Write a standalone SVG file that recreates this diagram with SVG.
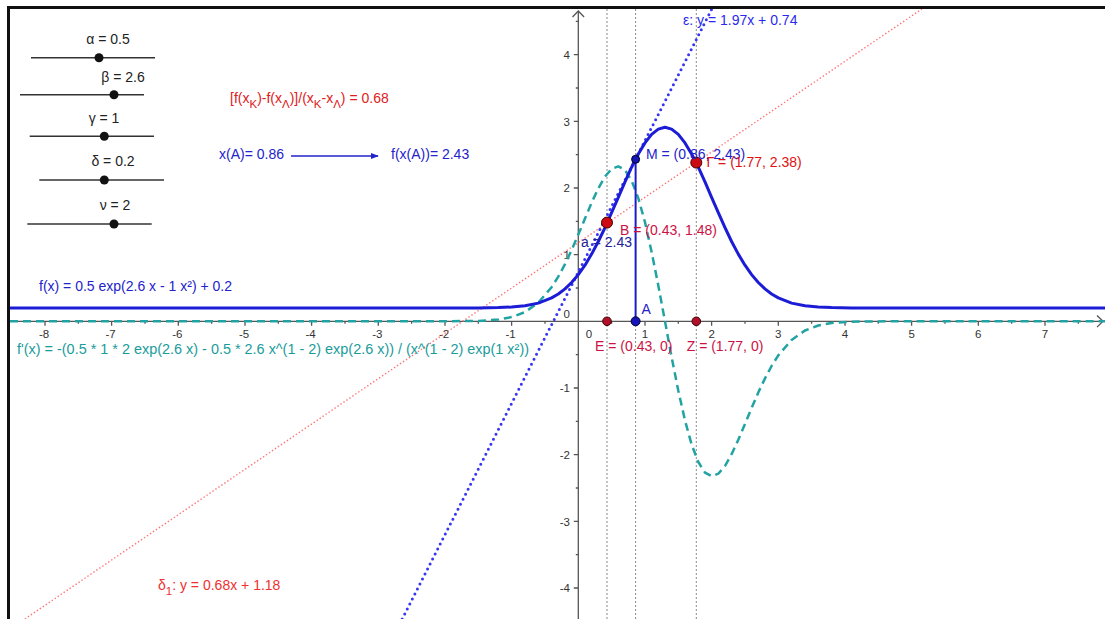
<svg xmlns="http://www.w3.org/2000/svg" width="1105" height="619" viewBox="0 0 1105 619">
<style>
text{font-family:"Liberation Sans",Arial,sans-serif;font-size:14px}
.tick{font-size:11.5px;fill:#333}
.axis{stroke:#555;stroke-width:1.3;fill:none}
.guide{stroke:#8a8a8a;stroke-width:1;stroke-dasharray:2 2;fill:none}
.slider{stroke:#333;stroke-width:1.5}
.knob{fill:#111}
.blue{fill:#2323cc}
.red{fill:#e02020}
.crim{fill:#cc1144}
.sub{font-size:11.5px}
</style>
<defs>
<clipPath id="plot"><rect x="10" y="9" width="1095" height="610"/></clipPath>
<marker id="ah" viewBox="0 0 10 10" refX="9" refY="5" markerWidth="8" markerHeight="8" orient="auto" markerUnits="userSpaceOnUse"><path d="M0 1 L10 5 L0 9 Z" fill="#2323cc"/></marker>
</defs>
<rect width="1105" height="619" fill="#fff"/>
<g id="frame" stroke="#111" stroke-width="3" fill="none">
<line x1="8.5" y1="7.5" x2="1105" y2="7.5"/>
<line x1="8.5" y1="6" x2="8.5" y2="619"/>
</g>
<g clip-path="url(#plot)">
<g id="guides">
<line class="guide" x1="607" y1="9" x2="607" y2="619"/>
<line class="guide" x1="635.6" y1="9" x2="635.6" y2="619"/>
<line class="guide" x1="696.3" y1="9" x2="696.3" y2="619"/>
</g>
<g id="axes">
<line class="axis" x1="10" y1="321.3" x2="1103" y2="321.3"/>
<path class="axis" d="M1097 315.5 L1103 321.3 L1097 327.1"/>
<line class="axis" x1="578.3" y1="619" x2="578.3" y2="11"/>
<path class="axis" d="M572.5 17 L578.3 11 L584.1 17"/>
<path class="axis" d="M45 321.3v4.5M111.6 321.3v4.5M178.3 321.3v4.5M245 321.3v4.5M311.6 321.3v4.5M378.3 321.3v4.5M445 321.3v4.5M511.6 321.3v4.5M645 321.3v4.5M711.6 321.3v4.5M778.3 321.3v4.5M845 321.3v4.5M911.6 321.3v4.5M978.3 321.3v4.5M1045 321.3v4.5"/>
<path class="axis" d="M78.3 321.3v2.5M145 321.3v2.5M211.6 321.3v2.5M278.3 321.3v2.5M345 321.3v2.5M411.6 321.3v2.5M478.3 321.3v2.5M545 321.3v2.5M611.6 321.3v2.5M678.3 321.3v2.5M745 321.3v2.5M811.6 321.3v2.5M878.3 321.3v2.5M945 321.3v2.5M1011.6 321.3v2.5M1078.3 321.3v2.5"/>
<path class="axis" d="M578.3 54.6h-4.5M578.3 121.3h-4.5M578.3 188h-4.5M578.3 254.6h-4.5M578.3 388h-4.5M578.3 454.6h-4.5M578.3 521.3h-4.5M578.3 588h-4.5"/>
<path class="axis" d="M578.3 21.3h-2.5M578.3 88h-2.5M578.3 154.6h-2.5M578.3 221.3h-2.5M578.3 288h-2.5M578.3 354.6h-2.5M578.3 421.3h-2.5M578.3 488h-2.5M578.3 554.6h-2.5"/>
</g>
<g id="tick-labels" text-anchor="middle">
<text class="tick" x="44" y="337.5">-8</text>
<text class="tick" x="110.6" y="337.5">-7</text>
<text class="tick" x="177.3" y="337.5">-6</text>
<text class="tick" x="244" y="337.5">-5</text>
<text class="tick" x="310.6" y="337.5">-4</text>
<text class="tick" x="377.3" y="337.5">-3</text>
<text class="tick" x="444" y="337.5">-2</text>
<text class="tick" x="510.6" y="337.5">-1</text>
<text class="tick" x="589" y="337.5">0</text>
<text class="tick" x="645" y="337.5">1</text>
<text class="tick" x="711.6" y="337.5">2</text>
<text class="tick" x="778.3" y="337.5">3</text>
<text class="tick" x="845" y="337.5">4</text>
<text class="tick" x="911.6" y="337.5">5</text>
<text class="tick" x="978.3" y="337.5">6</text>
<text class="tick" x="1045" y="337.5">7</text>
</g>
<g id="y-tick-labels" text-anchor="end">
<text class="tick" x="570" y="58.8">4</text>
<text class="tick" x="570" y="125.5">3</text>
<text class="tick" x="570" y="192.2">2</text>
<text class="tick" x="570" y="258.8">1</text>
<text class="tick" x="570" y="318">0</text>
<text class="tick" x="570" y="392.2">-1</text>
<text class="tick" x="570" y="458.8">-2</text>
<text class="tick" x="570" y="525.5">-3</text>
<text class="tick" x="570" y="592.2">-4</text>
</g>
<g id="line-delta1">
<line x1="24.9" y1="619" x2="921.9" y2="9" stroke="#ff5a5a" stroke-width="1.4" stroke-dasharray="1.4 2.2" opacity="0.85"/>
</g>
<g id="line-epsilon">
<line x1="402.2" y1="619" x2="711.8" y2="9" stroke="#3535f5" stroke-width="3" stroke-linecap="round" stroke-dasharray="0 5.6"/>
</g>
<g id="f-prime">
<path d="M10 321.3 L445 321.3 L478.3 320.9 L498.3 319.6 L511.6 317.1 L525 312.1 L538.3 302.7 L551.6 287.2 L558.3 276.6 L565 264.2 L571.6 250.1 L578.3 234.6 L585 218.6 L591.6 202.8 L598.3 188.4 L605 176.6 L611.6 168.9 L618.3 166.4 L625 170 L631.6 180.6 L638.3 198.2 L645 222.2 L651.6 251.9 L658.3 285.5 L665 321.3 L671.6 357.1 L678.3 390.7 L685 420.4 L691.6 444.4 L698.3 462 L705 472.6 L711.6 476.2 L718.3 473.7 L725 466 L731.6 454.2 L738.3 439.8 L745 424 L751.6 408 L758.3 392.5 L765 378.4 L771.6 366 L778.3 355.4 L791.6 339.9 L805 330.5 L818.3 325.5 L831.6 323 L851.6 321.7 L885 321.3 L1105 321.3" fill="none" stroke="#22a3a3" stroke-width="2.5" stroke-dasharray="8 5" stroke-linejoin="round"/>
</g>
<g id="f">
<path d="M10 308 L478.3 307.9 L498.3 307.6 L511.6 307.05 L525 305.8 L538.3 303.1 L551.6 297.9 L558.3 294 L565 288.9 L571.6 282.5 L578.3 274.6 L585 265.2 L591.6 254.1 L598.3 241.5 L605 227.6 L611.6 212.7 L618.3 197.3 L625 181.9 L631.6 167.2 L638.3 154 L645 142.9 L651.6 134.4 L658.3 129.1 L665 127.3 L671.6 129.1 L678.3 134.4 L685 142.9 L691.6 154 L698.3 167.2 L705 181.9 L711.6 197.3 L718.3 212.7 L725 227.6 L731.6 241.5 L738.3 254.1 L745 265.2 L751.6 274.6 L758.3 282.5 L765 288.9 L771.6 294 L778.3 297.9 L791.6 303.1 L805 305.8 L818.3 307.05 L831.6 307.6 L851.6 307.9 L1105 308" fill="none" stroke="#1c1cd6" stroke-width="3" stroke-linejoin="round"/>
</g>
<g id="segment-AM">
<line x1="635.6" y1="321.3" x2="635.6" y2="159.3" stroke="#1c1cc8" stroke-width="2"/>
</g>
<g id="points">
<g id="pt-E"><circle cx="607" cy="321.3" r="4.3" fill="#b0102a" stroke="#3a0000" stroke-width="1"/></g>
<g id="pt-Z"><circle cx="696.3" cy="321.3" r="4.3" fill="#b0102a" stroke="#3a0000" stroke-width="1"/></g>
<g id="pt-A"><circle cx="635.6" cy="321.3" r="4.5" fill="#1515b8" stroke="#000033" stroke-width="1"/></g>
<g id="pt-M"><circle cx="635.6" cy="159.3" r="4" fill="#1515b8" stroke="#000022" stroke-width="1"/></g>
<g id="pt-B"><circle cx="607" cy="222.6" r="5.5" fill="#cc0a14" stroke="#400" stroke-width="1"/></g>
<g id="pt-G"><circle cx="696.3" cy="162.6" r="5.5" fill="#cc0a14" stroke="#400" stroke-width="1"/></g>
</g>
</g>
<g id="sliders">
<g id="slider-alpha"><text x="108" y="44" text-anchor="middle" fill="#222">α = 0.5</text><line class="slider" x1="31" y1="57.7" x2="155" y2="57.7"/><circle class="knob" cx="99" cy="57.7" r="4.5"/></g>
<g id="slider-beta"><text x="123" y="82" text-anchor="middle" fill="#222">β = 2.6</text><line class="slider" x1="20" y1="94.7" x2="144" y2="94.7"/><circle class="knob" cx="114" cy="94.7" r="4.5"/></g>
<g id="slider-gamma"><text x="104" y="123" text-anchor="middle" fill="#222">γ = 1</text><line class="slider" x1="29.7" y1="136.3" x2="154" y2="136.3"/><circle class="knob" cx="104.3" cy="136.3" r="4.5"/></g>
<g id="slider-delta"><text x="113" y="166" text-anchor="middle" fill="#222">δ = 0.2</text><line class="slider" x1="39.3" y1="180" x2="164" y2="180"/><circle class="knob" cx="104.3" cy="180" r="4.5"/></g>
<g id="slider-nu"><text x="115" y="209.5" text-anchor="middle" fill="#222">ν = 2</text><line class="slider" x1="27.3" y1="224" x2="151.7" y2="224"/><circle class="knob" cx="114" cy="224" r="4.5"/></g>
</g>
<g id="texts">
<text class="red" x="230" y="102.5">[f(x<tspan class="sub" dy="5">Κ</tspan><tspan dy="-5">)-f(x</tspan><tspan class="sub" dy="5">Λ</tspan><tspan dy="-5">)]/(x</tspan><tspan class="sub" dy="5">Κ</tspan><tspan dy="-5">-x</tspan><tspan class="sub" dy="5">Λ</tspan><tspan dy="-5">) = 0.68</tspan></text>
<g id="xA"><text class="blue" x="219" y="159.3">x(A)= 0.86</text></g>
<g id="connectors"><line x1="291" y1="156" x2="378" y2="156" stroke="#2323cc" stroke-width="1.6" marker-end="url(#ah)"/></g>
<g id="fxA"><text class="blue" x="391" y="159.3">f(x(A))= 2.43</text></g>
<text x="683" y="25" fill="#2a2aee">ε: y = 1.97x + 0.74</text>
<text class="blue" x="646" y="159">M = (0.86, 2.43)</text>
<text x="706.5" y="167" fill="#dd1111">Γ = (1.77, 2.38)</text>
<text class="crim" x="620" y="235">B = (0.43, 1.48)</text>
<text x="581" y="246.7" fill="#22229a">a = 2.43</text>
<text class="blue" x="641.5" y="314">A</text>
<text class="crim" x="595" y="351">E = (0.43, 0)</text>
<text class="crim" x="686.7" y="351">Z = (1.77, 0)</text>
<text class="blue" x="39" y="291">f(x) = 0.5 exp(2.6 x - 1 x²) + 0.2</text>
<text x="17" y="354" fill="#1a9c9c" textLength="512" lengthAdjust="spacingAndGlyphs">f'(x) = -(0.5 * 1 * 2 exp(2.6 x) - 0.5 * 2.6 x^(1 - 2) exp(2.6 x)) / (x^(1 - 2) exp(1 x²))</text>
<text x="158" y="590" fill="#ee3030">δ<tspan class="sub" dy="5">1</tspan><tspan dy="-5">: y = 0.68x + 1.18</tspan></text>
</g>
</svg>
